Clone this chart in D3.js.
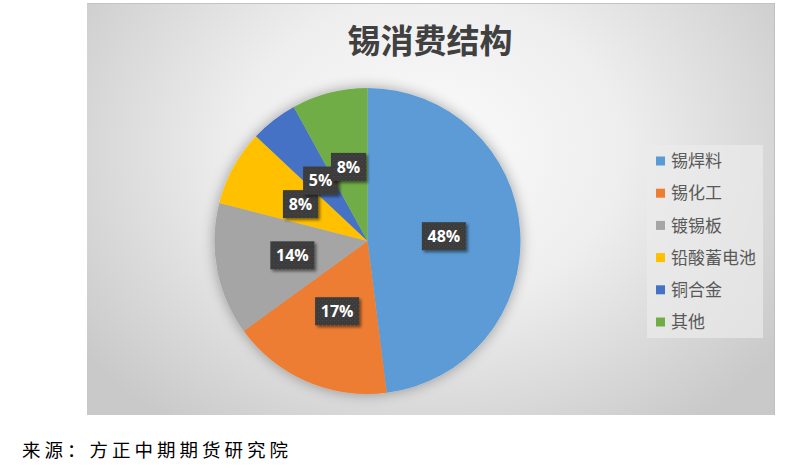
<!DOCTYPE html>
<html><head><meta charset="utf-8">
<script src="https://cdn.jsdelivr.net/npm/d3@7/dist/d3.min.js"></script>
<style>
html,body{margin:0;padding:0;background:#fff;}
svg{display:block;}
</style></head>
<body>
<svg id="chart" width="793" height="466"></svg>
<script>
const title = "锡消费结构";
const categories = ["锡焊料","锡化工","镀锡板","铅酸蓄电池","铜合金","其他"];
const values = [48, 17, 14, 8, 5, 8];
const colors = ["#5B9BD5","#ED7D31","#A5A5A5","#FFC000","#4472C4","#70AD47"];
const source = "来源：方正中期期货研究院";

const svg = d3.select("#chart");
const defs = svg.append("defs");

// panel gradient
const rg = defs.append("radialGradient").attr("id","bg")
  .attr("gradientUnits","userSpaceOnUse")
  .attr("cx",430).attr("cy",150).attr("r",430)
  .attr("gradientTransform","translate(430,150) scale(1,0.8) translate(-430,-150)");
rg.append("stop").attr("offset","0").attr("stop-color","#fbfbfb");
rg.append("stop").attr("offset","0.45").attr("stop-color","#eeeeee");
rg.append("stop").attr("offset","1").attr("stop-color","#c9c9c9");

// pie shadow
const f = defs.append("filter").attr("id","pieShadow").attr("x","-30%").attr("y","-30%").attr("width","160%").attr("height","160%");
f.append("feGaussianBlur").attr("in","SourceAlpha").attr("stdDeviation",7).attr("result","b");
f.append("feOffset").attr("in","b").attr("dx",0).attr("dy",0).attr("result","o");
f.append("feComponentTransfer").attr("in","o").attr("result","s")
  .append("feFuncA").attr("type","linear").attr("slope",0.35);
const fm = f.append("feMerge");
fm.append("feMergeNode").attr("in","s");
fm.append("feMergeNode").attr("in","SourceGraphic");

// label shadow
const lf = defs.append("filter").attr("id","lblShadow").attr("x","-30%").attr("y","-30%").attr("width","170%").attr("height","170%");
lf.append("feGaussianBlur").attr("in","SourceAlpha").attr("stdDeviation",1.5).attr("result","b");
lf.append("feOffset").attr("in","b").attr("dx",2).attr("dy",2).attr("result","o");
lf.append("feComponentTransfer").attr("in","o").attr("result","s")
  .append("feFuncA").attr("type","linear").attr("slope",0.5);
const lm = lf.append("feMerge");
lm.append("feMergeNode").attr("in","s");
lm.append("feMergeNode").attr("in","SourceGraphic");

// dotted texture
const pat = defs.append("pattern").attr("id","dots").attr("width",4).attr("height",4).attr("patternUnits","userSpaceOnUse");
pat.append("rect").attr("width",4).attr("height",4).attr("fill","#3a3a3a");
pat.append("rect").attr("x",1).attr("y",1).attr("width",1).attr("height",1).attr("fill","#555");
pat.append("rect").attr("x",3).attr("y",3).attr("width",1).attr("height",1).attr("fill","#4a4a4a");

// panel
svg.append("rect").attr("x",87).attr("y",3).attr("width",688).attr("height",412)
  .attr("fill","url(#bg)");
svg.append("line").attr("x1",87).attr("x2",775).attr("y1",3.5).attr("y2",3.5).attr("stroke","#c4c4c4");
svg.append("line").attr("x1",774.5).attr("x2",774.5).attr("y1",3).attr("y2",415).attr("stroke","#c0c0c0");

// title
svg.append("text").attr("x",430).attr("y",53).attr("text-anchor","middle")
  .attr("font-family","'Noto Sans CJK SC'").attr("font-weight",700)
  .attr("font-size",33).attr("fill","#404040").text(title);

// pie
const cx = 367.5, cy = 241, R = 153;
const pie = d3.pie().sort(null).value(d => d.v);
const arcs = pie(categories.map((c,i)=>({c, v: values[i], col: colors[i]})));
const arc = d3.arc().innerRadius(0).outerRadius(R);
const total = d3.sum(values);

const g = svg.append("g").attr("transform",`translate(${cx},${cy})`);
g.append("g").attr("filter","url(#pieShadow)")
  .selectAll("path").data(arcs).join("path")
  .attr("d", arc).attr("fill", d => d.data.col);

const fmt = d3.format(".0%");
const lg = g.append("g");
arcs.forEach(d => {
  const [x,y] = arc.centroid(d);
  const txt = fmt(d.data.v/total);
  const w = txt.length === 3 ? 44 : 35, h = 28;
  const grp = lg.append("g").attr("transform",`translate(${x},${y})`);
  grp.append("rect").attr("x",-w/2).attr("y",-h/2).attr("width",w).attr("height",h)
    .attr("fill","url(#dots)").attr("filter","url(#lblShadow)");
  grp.append("text").attr("text-anchor","middle").attr("dy","0.36em")
    .attr("font-family","'Open Sans', 'DejaVu Sans', sans-serif").attr("font-weight",700)
    .attr("font-size",16).attr("fill","#ffffff").text(txt);
});

// legend
const lx = 647, ly = 145;
svg.append("rect").attr("x",lx).attr("y",ly).attr("width",116).attr("height",193)
  .attr("fill","#ebebeb").attr("fill-opacity",0.7);
const items = svg.append("g").selectAll("g").data(categories).join("g")
  .attr("transform",(d,i)=>`translate(${lx+9},${ly+16+i*32.2})`);
items.append("rect").attr("x",0).attr("y",-4.5).attr("width",9).attr("height",9)
  .attr("fill",(d,i)=>colors[i]);
items.append("text").attr("x",15).attr("dy","0.36em")
  .attr("font-family","'Noto Sans CJK SC'").attr("font-size",17).attr("fill","#595959")
  .text(d=>d);

// source
svg.append("text").attr("x",22).attr("y",457)
  .attr("font-family","'Noto Sans CJK SC'").attr("font-size",18.5).attr("letter-spacing",4)
  .attr("fill","#000").text(source);
</script>
</body></html>
